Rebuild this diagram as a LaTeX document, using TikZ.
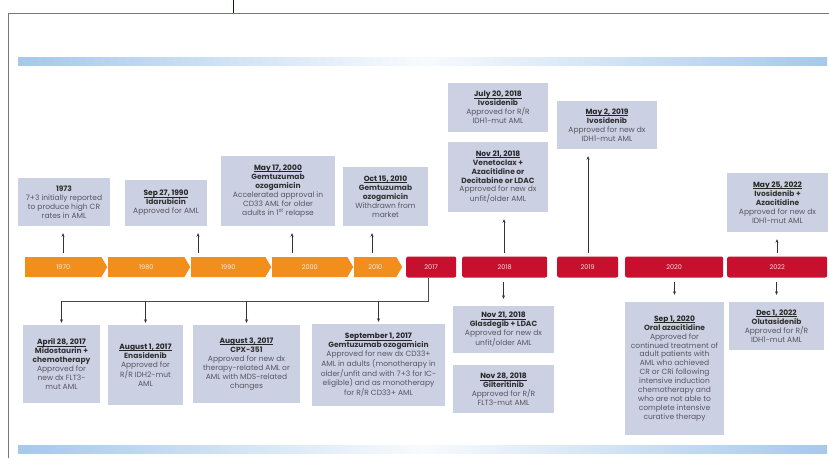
\documentclass[tikz,border=0pt]{standalone}
\usepackage{fontspec}
\setsansfont{Poppins}
\usetikzlibrary{shapes.symbols,arrows.meta,positioning}
\definecolor{eraorange}{HTML}{F18E1C}
\definecolor{yearred}{HTML}{C8102E}
\definecolor{boxgray}{HTML}{CCD0E3}
\definecolor{bodygray}{HTML}{56565F}
\definecolor{barblue}{HTML}{A6C8EA}
\definecolor{framegray}{HTML}{777777}
\newcommand{\when}[1]{\textcolor{black!85}{\bfseries\setbox0\hbox{#1}\rlap{\rule[-1.3pt]{\wd0}{0.45pt}}\box0}}
\newcommand{\what}[1]{\textcolor{black!80}{\bfseries #1}}

\begin{document}
\begin{tikzpicture}[x=1pt, y=-1pt,
  era/.style = {signal, signal to=east, signal pointer angle=120, fill=eraorange,
    text=white!85!eraorange, minimum height=20pt, inner sep=0pt, anchor=west,
    font=\sffamily\fontsize{6.5}{7}\selectfont},
  yr/.style = {fill=yearred, rounded corners=2pt, text=white!85!yearred,
    minimum height=21pt, inner sep=0pt, anchor=west,
    font=\sffamily\fontsize{6.5}{7}\selectfont},
  event/.style = {fill=boxgray, align=center, inner sep=0pt, text=bodygray,
    font=\sffamily\fontsize{7.5}{8.9}\selectfont},
  up/.style = {draw=black!80, line width=0.8pt, -{Stealth[length=3.5pt,width=3pt]},
    shorten <=4pt, shorten >=7pt},
  down/.style = {draw=black!80, line width=0.8pt, -{Stealth[length=3.5pt,width=3pt]},
    shorten >=2pt},
  link/.style = {draw=black!70, line width=0.8pt}]
	\useasboundingbox (0,0) rectangle (829,458);
	\fill[white] (0,0) rectangle (829,458);
	% frame and bars
	\draw[framegray, line width=1pt] (8,458) -- (8,13) -- (829,13);
	\draw[black!60!green!40!black, line width=0.6pt] (233,0) -- (233,13);
	\shade[left color=barblue, right color=barblue, middle color=white!92!barblue] (18,57) rectangle (827,65);
	\shade[left color=barblue, right color=barblue, middle color=white!92!barblue] (18,445) rectangle (827,453);
	% timeline
	\node[era, minimum width=82pt] (y1970) at (25,267) {1970};
	\node[era, minimum width=82pt] (y1980) at (108,267) {1980};
	\node[era, minimum width=80pt] (y1990) at (191,267) {1990};
	\node[era, minimum width=81pt] (y2000) at (272,267) {2000};
	\node[era, minimum width=48pt] (y2010) at (354,267) {2010};
	\node[yr, minimum width=50pt] (y2017) at (406,267) {2017};
	\node[yr, minimum width=85pt] (y2018) at (462,267) {2018};
	\node[yr, minimum width=61pt] (y2019) at (557,267) {2019};
	\node[yr, minimum width=98pt] (y2020) at (625,267) {2020};
	\node[yr, minimum width=100pt] (y2022) at (727,267) {2022};
	% events above
	\node[event, minimum width=92pt, minimum height=48pt] (e1973) at (64,202)
		{\what{1973}\\7+3 initially reported\\to produce high CR\\rates in AML};
	\node[event, minimum width=82pt, minimum height=46pt] (e1990) at (166,203)
		{\when{Sep 27, 1990}\\\what{Idarubicin}\\Approved for AML};
	\node[event, minimum width=114pt, minimum height=70pt] (e2000) at (278,191)
		{\when{May 17, 2000}\\\what{Gemtuzumab}\\\what{ozogamicin}\\Accelerated approval in\\CD33 AML for older\\adults in 1\textsuperscript{st} relapse};
	\node[event, minimum width=85pt, minimum height=59pt] (e2010) at (385.5,196.5)
		{\when{Oct 15, 2010}\\\what{Gemtuzumab}\\\what{ozogamicin}\\Withdrawn from\\market};
	\node[event, minimum width=100pt, minimum height=49pt] (e2018a) at (498,107.5)
		{\when{July 20, 2018}\\\what{Ivosidenib}\\Approved for R/R\\IDH1-mut AML};
	\node[event, minimum width=100pt, minimum height=70pt] (e2018b) at (498,177)
		{\when{Nov 21, 2018}\\\what{Venetoclax +}\\\what{Azacitidine or}\\\what{Decitabine or LDAC}\\Approved for new dx\\unfit/older AML};
	\node[event, minimum width=100pt, minimum height=48pt] (e2019) at (607,125)
		{\when{May 2, 2019}\\\what{Ivosidenib}\\Approved for new dx\\IDH1-mut AML};
	\node[event, minimum width=101pt, minimum height=59pt] (e2022) at (777.5,202.5)
		{\when{May 25, 2022}\\\what{Ivosidenib +}\\\what{Azacitidine}\\Approved for new dx\\IDH1-mut AML};
	% events below
	\node[event, minimum width=77pt, minimum height=78pt] (b2017a) at (61.5,364)
		{\when{April 28, 2017}\\\what{Midostaurin +}\\\what{chemotherapy}\\Approved for\\new dx FLT3-\\mut AML};
	\node[event, minimum width=75pt, minimum height=80pt] (b2017b) at (145.5,365)
		{\when{August 1, 2017}\\\what{Enasidenib}\\Approved for\\R/R IDH2-mut\\AML};
	\node[event, minimum width=107pt, minimum height=78pt] (b2017c) at (246.5,364)
		{\when{August 3, 2017}\\\what{CPX-351}\\Approved for new dx\\therapy-related AML or\\AML with MDS-related\\changes};
	\node[event, minimum width=133pt, minimum height=82pt] (b2017d) at (378.5,365)
		{\when{September 1, 2017}\\\what{Gemtuzumab ozogamicin}\\Approved for new dx CD33+\\AML in adults (monotherapy in\\older/unfit and with 7+3 for IC-\\eligible) and as monotherapy\\for R/R CD33+ AML};
	\node[event, minimum width=101pt, minimum height=47pt] (b2018a) at (503.5,329.5)
		{\when{Nov 21, 2018}\\\what{Glasdegib + LDAC}\\Approved for new dx\\unfit/older AML};
	\node[event, minimum width=101pt, minimum height=48pt] (b2018b) [below=12pt of b2018a]
		{\when{Nov 28, 2018}\\\what{Gilteritinib}\\Approved for R/R\\FLT3-mut AML};
	\node[event, minimum width=99pt, minimum height=133pt] (b2020) at (674.5,368.5)
		{\when{Sep 1, 2020}\\\what{Oral azacitidine}\\Approved for\\continued treatment of\\adult patients with\\AML who achieved\\CR or CRi following\\intensive induction\\chemotherapy and\\who are not able to\\complete intensive\\curative therapy};
	\node[event, minimum width=95pt, minimum height=48pt] (b2022) at (776.5,326)
		{\when{Dec 1, 2022}\\\what{Olutasidenib}\\Approved for R/R\\IDH1-mut AML};
	% arrows up
	\coordinate (t1973) at (63,257);
	\coordinate (t1990) at (198,257);
	\coordinate (t2000) at (292,257);
	\coordinate (t2010) at (372,257);
	\coordinate (t2018) at (504,257);
	\coordinate (t2019) at (588,257);
	\coordinate (t2022) at (777,257);
	\draw[up] (t1973) -- (t1973 |- e1973.south);
	\draw[up] (t1990) -- (t1990 |- e1990.south);
	\draw[up] (t2000) -- (t2000 |- e2000.south);
	\draw[up] (t2010) -- (t2010 |- e2010.south);
	\draw[up] (t2018) -- (t2018 |- e2018b.south);
	\draw[up] (t2019) -- (t2019 |- e2019.south);
	\draw[up] (t2022) -- (t2022 |- e2022.south);
	% 2017 bracket
	\coordinate (split) at (428,301);
	\draw[link] (split |- y2017.south) -- (split) -- (split -| b2017a.north);
	\draw[down] (split -| b2017a.north) -- (b2017a.north);
	\draw[down] (split -| b2017b.north) -- (b2017b.north);
	\draw[down] (split -| b2017c.north) -- (b2017c.north);
	\draw[down] (split -| b2017d.north) -- (b2017d.north);
	% arrows down
	\draw[up] (y2018.south -| b2018a.north) -- (b2018a.north);
	\draw[up] (y2020.south -| b2020.north) -- (b2020.north);
	\draw[up] (y2022.south -| b2022.north) -- (b2022.north);
\end{tikzpicture}
\end{document}
